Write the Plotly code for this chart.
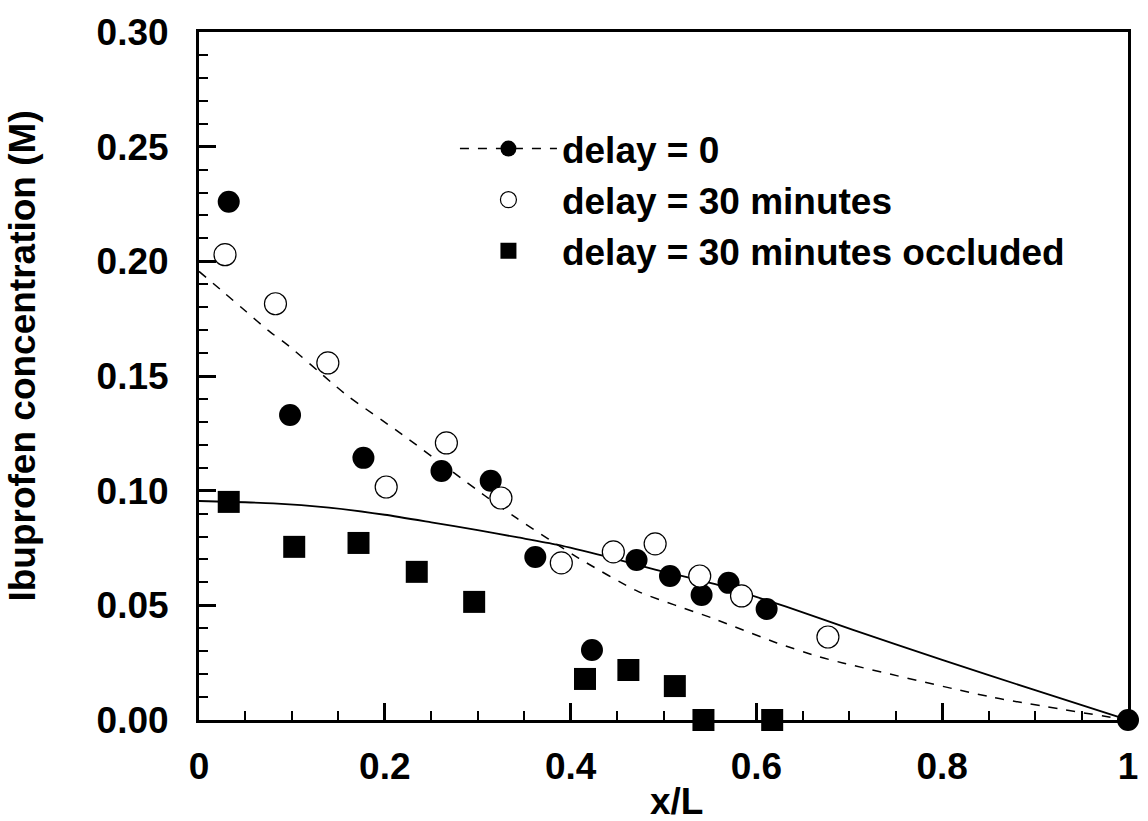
import plotly.graph_objects as go

# delay = 0 (filled circles)
x_d0 = [0.032, 0.098, 0.177, 0.261, 0.314, 0.362, 0.423, 0.471, 0.507, 0.541, 0.570, 0.611, 1.0]
y_d0 = [0.226, 0.133, 0.1143, 0.1086, 0.1043, 0.0711, 0.0305, 0.0698, 0.0628, 0.0545, 0.0598, 0.0484, 0.0]

# delay = 30 minutes (open circles)
x_d30 = [0.028, 0.0823, 0.1387, 0.2015, 0.2663, 0.325, 0.390, 0.446, 0.491, 0.539, 0.584, 0.677]
y_d30 = [0.2029, 0.1815, 0.1557, 0.1016, 0.1208, 0.0968, 0.0685, 0.0733, 0.0768, 0.0628, 0.0541, 0.0362]

# delay = 30 minutes occluded (filled squares)
x_occ = [0.032, 0.1025, 0.1717, 0.2344, 0.2962, 0.4155, 0.4622, 0.5122, 0.543, 0.617]
y_occ = [0.0951, 0.0755, 0.0772, 0.0646, 0.0515, 0.0179, 0.0218, 0.0148, 0.0, 0.0]

# model curve, dashed (delay = 0)
x_dash = [0.0, 0.028, 0.051, 0.074, 0.097, 0.143, 0.161, 0.217, 0.307, 0.342, 0.409, 0.473,
          0.552, 0.622, 0.668, 0.693, 0.853, 1.0]
y_dash = [0.1956, 0.186, 0.178, 0.170, 0.163, 0.147, 0.141, 0.125, 0.098, 0.088, 0.0705, 0.056,
          0.0445, 0.0336, 0.0275, 0.0249, 0.0100, 0.0]

# model curve, solid
x_solid = [0.0, 0.08, 0.14, 0.2, 0.25, 0.3, 0.342, 0.385, 0.438, 0.491, 0.562, 0.632, 0.704,
           0.8, 0.9, 1.0]
y_solid = [0.0955, 0.0945, 0.0926, 0.0895, 0.0862, 0.0828, 0.0797, 0.0765, 0.0713, 0.0656,
           0.0585, 0.0494, 0.0393, 0.0262, 0.0130, 0.0]

x_tickvals = [0, 0.2, 0.4, 0.6, 0.8, 1.0]
x_ticktext = ["0", "0.2", "0.4", "0.6", "0.8", "1"]
y_tickvals = [0, 0.05, 0.10, 0.15, 0.20, 0.25, 0.30]
y_ticktext = ["0.00", "0.05", "0.10", "0.15", "0.20", "0.25", "0.30"]

FONT = "Arial, 'Liberation Sans', sans-serif"
FS = 37

fig = go.Figure()

fig.add_trace(go.Scatter(x=x_solid, y=y_solid, mode="lines", showlegend=False,
                         line=dict(color="black", width=1.8, shape="spline", smoothing=0.6),
                         hoverinfo="skip"))
fig.add_trace(go.Scatter(x=x_dash, y=y_dash, mode="lines", showlegend=False,
                         line=dict(color="black", width=1.5, dash="9px,9px", shape="spline", smoothing=0.6),
                         hoverinfo="skip"))

# legend-only entry for delay = 0 with dashed line + filled circle
fig.add_trace(go.Scatter(x=[None], y=[None], mode="lines+markers", name="delay = 0",
                         line=dict(color="black", width=1.5, dash="9px,9px"),
                         marker=dict(symbol="circle", size=22, color="black")))

fig.add_trace(go.Scatter(x=x_d0, y=y_d0, mode="markers", showlegend=False, cliponaxis=False,
                         marker=dict(symbol="circle", size=22, color="black")))
fig.add_trace(go.Scatter(x=x_d30, y=y_d30, mode="markers", name="delay = 30 minutes", cliponaxis=False,
                         marker=dict(symbol="circle", size=22, color="white",
                                     line=dict(color="black", width=1.2))))
fig.add_trace(go.Scatter(x=x_occ, y=y_occ, mode="markers", name="delay = 30 minutes occluded",
                         cliponaxis=False,
                         marker=dict(symbol="square", size=22, color="black")))

axis_common = dict(showline=True, linecolor="black", linewidth=3, mirror=True,
                   ticks="inside", tickcolor="black", tickwidth=2.5, ticklen=17,
                   showgrid=False, zeroline=False,
                   tickfont=dict(family=FONT, size=FS, color="black", weight="bold"))

fig.update_xaxes(range=[0, 1], tickvals=x_tickvals, ticktext=x_ticktext,
                 ticklabelstandoff=12,
                 minor=dict(ticks="inside", dtick=0.05, ticklen=9, tickwidth=2, tickcolor="black"),
                 **axis_common)
fig.update_yaxes(range=[0, 0.30], tickvals=y_tickvals, ticktext=y_ticktext,
                 ticklabelstandoff=20,
                 minor=dict(ticks="inside", dtick=0.01, ticklen=9, tickwidth=2, tickcolor="black"),
                 **axis_common)

fig.update_layout(
    width=1148, height=821,
    margin=dict(l=199, r=10, t=32, b=101),
    paper_bgcolor="white", plot_bgcolor="white",
    font=dict(family=FONT, color="black"),
    legend=dict(x=0.2755, y=0.875, xanchor="left", yanchor="top",
                bgcolor="rgba(0,0,0,0)", borderwidth=0, itemwidth=97,
                font=dict(family=FONT, size=FS, color="black", weight="bold"),
                tracegroupgap=0),
    annotations=[
        dict(text="Ibuprofen concentration (M)", textangle=-90, xref="paper", yref="paper",
             x=-0.19, y=0.529, showarrow=False, xanchor="center", yanchor="middle",
             font=dict(family=FONT, size=FS, color="black", weight="bold")),
        dict(text="x/L", xref="paper", yref="paper", x=0.514, y=-0.119, showarrow=False,
             xanchor="center", yanchor="middle",
             font=dict(family=FONT, size=FS, color="black", weight="bold")),
    ],
)

fig.write_html("out.html")
